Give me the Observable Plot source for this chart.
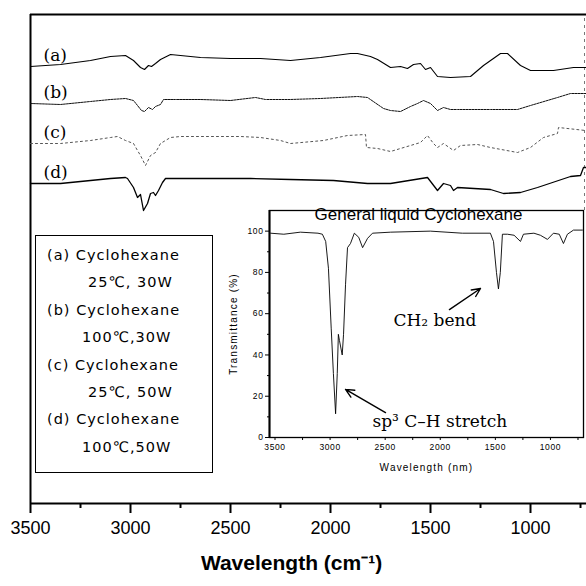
<!DOCTYPE html>
<html><head><meta charset="utf-8">
<script src="https://cdn.jsdelivr.net/npm/d3@7"></script>
<script src="https://cdn.jsdelivr.net/npm/@observablehq/plot@0.6"></script>
<style>
body{margin:0;background:#fff;}
#wrap{position:relative;width:586px;height:586px;overflow:hidden;background:#fff;}
#main{position:absolute;left:0;top:0;}
#inset{position:absolute;left:220px;top:200px;}
#inset g[aria-label="x-axis label"] text, #inset g[aria-label="y-axis label"] text{letter-spacing:1.2px;}
#inset g[aria-label="x-axis tick label"] text, #inset g[aria-label="y-axis tick label"] text{letter-spacing:0.6px;}
#legend{position:absolute;left:35px;top:235px;width:178px;height:238px;border:1px solid #000;background:#fff;font-family:"DejaVu Sans";font-size:14.5px;letter-spacing:1px;padding-top:6px;box-sizing:border-box;color:#000;}
#legend div{height:27.4px;line-height:27.4px;white-space:nowrap;}
#legend .h{padding-left:11px;}
#legend .c{padding-left:52px;}
#legend .c2{padding-left:46px;}
</style></head><body>
<div id="wrap"><div id="main"></div><div id="inset"></div><div id="legend"></div></div>
<script>
// ---- main spectra (wavenumber cm-1, transmittance a.u., offset stacked) ----
const waveA = [3500,3350,3200,3100,3025,2985,2950,2930,2910,2895,2875,2850,2800,2750,2650,2500,2350,2200,2050,1900,1865,1800,1765,1700,1650,1615,1585,1550,1525,1500,1465,1400,1300,1235,1150,1115,1050,1000,885,785,720];
const traceA = [437,439,443,447,448,443,436,434,438,437,440,444,449,448,446,445,445,443,446,450,450,447,444,436,437,435,439,440,434,436,427,426,427,438,450,450,438,433,433,436,436];

const waveB = [3500,3350,3200,3100,3025,2985,2965,2945,2930,2910,2890,2875,2850,2835,2775,2650,2500,2375,2325,2200,2050,1865,1815,1735,1700,1650,1600,1565,1535,1500,1465,1435,1400,1365,1200,1065,1000,865,800,720];
const traceB = [400,399,402,404,405,403,398,393,392,396,394,397,399,404,404,404,403,406,404,404,405,407,406,395,393,392,397,400,403,400,393,396,394,394,394,394,398,406,410,410];

const waveC = [3500,3350,3200,3100,3065,3025,2985,2965,2950,2925,2900,2875,2850,2800,2750,2450,2350,2250,2200,2035,1915,1825,1820,1765,1700,1600,1550,1515,1485,1465,1435,1385,1350,1265,1200,1065,1000,935,865,860,725];
const traceC = [360,360,363,366,367,363,360,353,348,338,348,351,360,366,367,367,366,363,360,363,368,369,356,355,352,358,361,368,360,356,360,353,358,359,356,351,356,366,370,376,373];

const waveD = [3500,3350,3200,3100,3025,3015,2985,2965,2950,2935,2915,2900,2885,2875,2860,2840,2825,2800,2650,2400,2200,1985,1815,1700,1515,1465,1435,1400,1385,1365,1200,1135,1050,965,800,750,735,720];
const traceD = [320,320,323,325,326,325,316,306,309,293,300,310,311,308,313,321,325,325,325,325,324,323,320,320,326,313,320,318,313,316,314,310,311,316,327,328,336,336];

const traceNames = ["(a)","(b)","(c)","(d)"];
const majorTicks = [3500,3000,2500,2000,1500,1000];
const minorTicks = [3250,2750,2250,1750,1250,750];
const xTitle = "Wavelength (cm⁻¹)";

// ---- legend ----
const legendLines = ["(a) Cyclohexane","25℃, 30W","(b) Cyclohexane","100℃,30W","(c) Cyclohexane","25℃, 50W","(d) Cyclohexane","100℃,50W"];

// ---- inset: general liquid cyclohexane ----
const insetTitle = "General liquid Cyclohexane";
const insetWave = [3540,3420,3270,3110,3070,3040,3015,2990,2970,2950,2935,2925,2915,2890,2878,2860,2842,2815,2780,2740,2705,2660,2615,2450,2090,1800,1545,1517,1490,1472,1455,1436,1390,1330,1272,1245,1150,1091,1027,973,920,882,846,791,710];
const insetT = [99,98.5,99.5,99,98.5,95,82,53,31,11.5,31,50,47,40,50,74,92,94,99,97,92,96.5,99,99.5,100,99,99,95,80,72,80,98.5,98.5,98,95,98.5,99,98,96,99,98.5,94,98.5,100.5,100.5];
const insetYTicks = [0,20,40,60,80,100];
const insetYMinor = [10,30,50,70,90];
const insetXTicks = [3500,3000,2500,2000,1500,1000];
const insetXMinor = [3250,2750,2250,1750,1250,750];
const annotText = ["CH₂ bend","sp³ C–H stretch"];
const annotX = [2425,2615];
const annotY = [56.7,7.7];
const arrowFromX = [1917,2497], arrowFromY = [62,12.1];
const arrowToX = [1635,2860], arrowToY = [72.2,23.3];

const rows = (w,v,k)=>w.map((x,i)=>({w:x,v:v[i],k}));
const traces = [rows(waveA,traceA,0),rows(waveB,traceB,1),rows(waveC,traceC,2),rows(waveD,traceD,3)];
const labels = traces.map((t,i)=>({name:traceNames[i], w:3435, v:t[0].v+11}));

const main = Plot.plot({
  width:586, height:586, marginLeft:30, marginRight:0, marginTop:14, marginBottom:83,
  x:{domain:[3500,720]}, y:{domain:[0,489], axis:null},
  style:{fontFamily:"Liberation Sans", background:"transparent", color:"#000"},
  marks:[
    Plot.ruleY([0],{stroke:"#000",strokeWidth:2}),
    Plot.ruleY([489],{stroke:"#000",strokeWidth:2}),
    Plot.ruleX([3500],{stroke:"#000",strokeWidth:2}),
    Plot.ruleX([730],{y1:293,y2:489,stroke:"#777",strokeDasharray:"3,4"}),
    Plot.axisX({ticks:majorTicks, tickSize:10, tickPadding:8, fontSize:18, strokeWidth:2, label:null, tickFormat:"d"}),
    Plot.axisX({ticks:minorTicks, tickSize:5, text:null, strokeWidth:2, label:null}),
    Plot.line(traces[0],{x:"w",y:"v",stroke:"#000",strokeWidth:1.1}),
    Plot.line(traces[1],{x:"w",y:"v",stroke:"#111",strokeWidth:1,strokeDasharray:"2,1"}),
    Plot.line(traces[2],{x:"w",y:"v",stroke:"#555",strokeWidth:1,strokeDasharray:"2,3"}),
    Plot.line(traces[3],{x:"w",y:"v",stroke:"#000",strokeWidth:1.3}),
    Plot.text(labels,{x:"w",y:"v",text:"name",textAnchor:"start",fontFamily:"DejaVu Serif",fontSize:17,fill:"#000"}),
    Plot.text([xTitle],{frameAnchor:"bottom",dx:-17,dy:66,lineAnchor:"bottom",fontWeight:"bold",fontSize:21,fill:"#000"})
  ]
});
document.getElementById("main").appendChild(main);

const leg = document.getElementById("legend");
legendLines.forEach((t,i)=>{
  const d = document.createElement("div");
  d.className = i%2===0 ? "h" : (t.startsWith("100") ? "c2" : "c");
  d.textContent = t;
  leg.appendChild(d);
});

const insetRows = insetWave.map((w,i)=>({w, t:insetT[i]}));
const annots = annotText.map((s,i)=>({s, x:annotX[i], y:annotY[i], x1:arrowFromX[i], y1:arrowFromY[i], x2:arrowToX[i], y2:arrowToY[i]}));

const inset = Plot.plot({
  width:366, height:280, marginLeft:49, marginRight:3, marginTop:10, marginBottom:43,
  x:{domain:[3550,700]}, y:{domain:[0,110]},
  style:{fontFamily:"Liberation Sans", background:"transparent", overflow:"visible", color:"#000"},
  marks:[
    Plot.frame({stroke:"#000",strokeWidth:1.3}),
    Plot.ruleX([3550],{stroke:"#000",strokeWidth:2}),
    Plot.axisY({ticks:insetYTicks, tickSize:4, tickPadding:2, fontSize:8.5, tickFormat:"d", label:null}),
    Plot.axisY({label:"Transmittance (%)", labelAnchor:"center", labelOffset:40, labelArrow:"none", fontSize:10, ticks:[], tickSize:0}),
    Plot.axisY({ticks:insetYMinor, tickSize:2, text:null, label:null}),
    Plot.axisX({ticks:insetXTicks, tickSize:3, tickPadding:3, fontSize:8.5, tickFormat:"d", label:null}),
    Plot.axisX({label:"Wavelength (nm)", labelAnchor:"center", labelOffset:33, labelArrow:"none", fontSize:10, ticks:[], tickSize:0}),
    Plot.axisX({ticks:insetXMinor, tickSize:3, text:null, label:null}),
    Plot.line(insetRows,{x:"w",y:"t",stroke:"#000",strokeWidth:0.9}),
    Plot.text([insetTitle],{frameAnchor:"top",dx:-8,dy:4,lineAnchor:"middle",fontSize:17,fill:"#000"}),
    Plot.arrow(annots,{x1:"x1",y1:"y1",x2:"x2",y2:"y2",stroke:"#000",strokeWidth:1.4,headLength:10,headAngle:50}),
    Plot.text(annots,{x:"x",y:"y",text:"s",textAnchor:"start",fontFamily:"DejaVu Serif",fontSize:17,fill:"#000"})
  ]
});
document.getElementById("inset").appendChild(inset);
</script>
</body></html>
